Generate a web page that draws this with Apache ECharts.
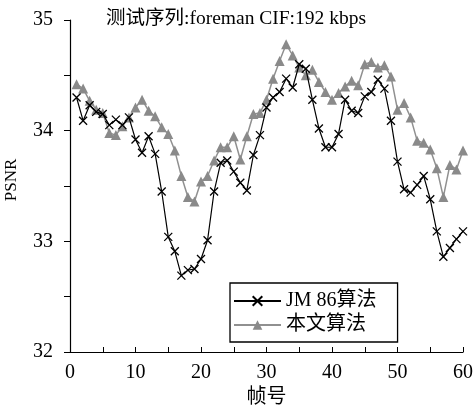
<!DOCTYPE html>
<html>
<head>
<meta charset="utf-8">
<script src="https://cdn.jsdelivr.net/npm/echarts@6/dist/echarts.min.js"></script>
<style>
html,body{margin:0;padding:0;background:#fff;}
#c{width:475px;height:408px;}
</style>
</head>
<body>
<div id="c"></div>
<script>
const titleText = '测试序列:foreman CIF:192 kbps';
const seriesNames = ['JM 86算法', '本文算法'];
const frames = [1,2,3,4,5,6,7,8,9,10,11,12,13,14,15,16,17,18,19,20,21,22,23,24,25,26,27,28,29,30,31,32,33,34,35,36,37,38,39,40,41,42,43,44,45,46,47,48,49,50,51,52,53,54,55,56,57,58,59,60];
const jm86 = [34.30,34.09,34.23,34.17,34.15,34.05,34.10,34.05,34.12,33.92,
  33.80,33.95,33.79,33.45,33.04,32.91,32.69,32.74,32.75,32.84,
  33.01,33.45,33.71,33.73,33.63,33.53,33.46,33.78,33.96,34.21,
  34.30,34.35,34.47,34.39,34.60,34.56,34.28,34.02,33.85,33.85,
  33.97,34.28,34.18,34.16,34.31,34.35,34.46,34.38,34.09,33.72,
  33.47,33.44,33.51,33.59,33.38,33.09,32.86,32.94,33.02,33.09];
const ours = [34.42,34.38,34.27,34.19,34.16,33.98,33.96,34.04,34.12,34.21,
  34.28,34.18,34.13,34.03,33.97,33.82,33.59,33.40,33.36,33.54,
  33.59,33.73,33.85,33.85,33.95,33.74,33.95,34.15,34.16,34.28,
  34.47,34.63,34.78,34.68,34.57,34.50,34.55,34.44,34.35,34.28,
  34.34,34.40,34.45,34.41,34.60,34.62,34.57,34.59,34.49,34.19,
  34.25,34.12,33.91,33.89,33.83,33.66,33.40,33.69,33.65,33.82];

const serif = "'Times New Roman','Liberation Serif','Noto Sans CJK SC',serif";
const pairs = vals => frames.map((f, i) => [f, vals[i]]);
const xSym = 'path://M0,0L10,10M10,0L0,10';

const chart = echarts.init(document.getElementById('c'), null, {renderer: 'canvas'});
chart.setOption({
  backgroundColor: '#fff',
  animation: false,
  title: {
    text: titleText,
    left: 101, top: 4,
    textStyle: {fontFamily: serif, fontSize: 19.5, fontWeight: 'normal', color: '#000'}
  },
  grid: {left: 70, right: 12, top: 20, bottom: 56, containLabel: false, outerBoundsMode: 'none'},
  legend: {
    orient: 'vertical',
    left: 230, top: 283,
    padding: [8, 21, 7, 3],
    itemGap: 4,
    itemWidth: 47, itemHeight: 12,
    borderColor: '#000', borderWidth: 1.3,
    backgroundColor: '#fff',
    textStyle: {fontFamily: serif, fontSize: 20, color: '#000'},
    data: seriesNames
  },
  xAxis: {
    type: 'value', min: 0, max: 60, interval: 5,
    name: '帧号', nameLocation: 'middle', nameGap: 36,
    nameTextStyle: {fontFamily: serif, fontSize: 20, color: '#000'},
    axisLine: {show: true, lineStyle: {color: '#000', width: 1.2}},
    axisTick: {show: true, inside: true, length: 5, lineStyle: {color: '#000'}},
    axisLabel: {fontFamily: serif, fontSize: 20, color: '#000', margin: 11,
      formatter: v => (v % 10 === 0 ? String(v) : '')},
    splitLine: {show: false}
  },
  yAxis: {
    type: 'value', min: 32, max: 35, interval: 0.5,
    name: 'PSNR', nameLocation: 'middle', nameGap: 50, nameRotate: 90,
    nameTextStyle: {fontFamily: serif, fontSize: 17, color: '#000', padding: [0, 0, 0, 12]},
    axisLine: {show: true, lineStyle: {color: '#000', width: 1.2}},
    axisTick: {show: true, inside: false, length: 6, lineStyle: {color: '#000'}},
    axisLabel: {fontFamily: serif, fontSize: 20, color: '#000', margin: 17,
      formatter: v => (Math.abs(v - Math.round(v)) < 1e-6 ? String(Math.round(v)) : '')},
    splitLine: {show: false}
  },
  series: [
    {
      name: seriesNames[0], type: 'line', data: pairs(jm86),
      symbol: xSym, symbolSize: 8, showAllSymbol: true,
      lineStyle: {color: '#000', width: 1.2},
      itemStyle: {color: '#000', borderColor: '#000', borderWidth: 1.3},
      z: 3
    },
    {
      name: seriesNames[1], type: 'line', data: pairs(ours),
      symbol: 'triangle', symbolSize: 10, showAllSymbol: true,
      lineStyle: {color: '#909090', width: 1.5},
      itemStyle: {color: '#8a8a8a', borderWidth: 0},
      z: 2
    }
  ]
});
</script>
</body>
</html>
